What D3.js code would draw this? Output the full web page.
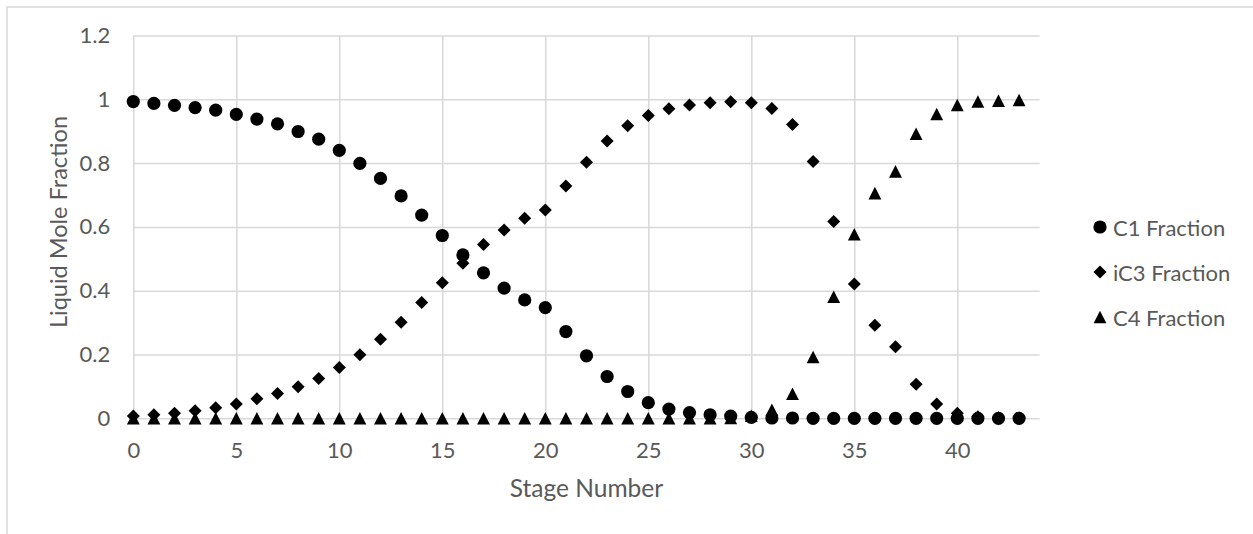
<!DOCTYPE html>
<html>
<head>
<meta charset="utf-8">
<script src="https://cdn.jsdelivr.net/npm/d3@7/dist/d3.min.js"></script>
<style>
  html, body { margin: 0; padding: 0; background: #fff; }
  svg { display: block; }
  text { font-family: Lato, "Open Sans", sans-serif; fill: #595959; }
</style>
</head>
<body>
<svg id="chart" width="1253" height="534"></svg>
<script>
// ---- data ----
const stages = [0,1,2,3,4,5,6,7,8,9,10,11,12,13,14,15,16,17,18,19,20,21,22,23,24,25,26,27,28,29,30,31,32,33,34,35,36,37,38,39,40,41,42,43];
const c1Fraction = [0.993,0.987,0.981,0.974,0.966,0.953,0.938,0.923,0.899,0.875,
                    0.840,0.799,0.752,0.697,0.637,0.573,0.512,0.456,0.408,0.371,
                    0.347,0.272,0.196,0.131,0.084,0.049,0.029,0.018,0.011,0.007,
                    0.003,0.001,0.001,0,0,0,0,0,0,0,
                    0,0,0,0];
const ic3Fraction = [0.007,0.011,0.016,0.024,0.033,0.045,0.061,0.078,0.099,0.125,
                     0.159,0.199,0.248,0.301,0.363,0.425,0.486,0.545,0.590,0.627,
                     0.653,0.728,0.803,0.869,0.917,0.949,0.970,0.982,0.989,0.992,
                     0.989,0.971,0.921,0.805,0.617,0.421,0.292,0.224,0.107,0.045,
                     0.016,0.005,0.002,0.001];
const c4Fraction = [0,0,0,0,0,0,0,0,0,0,
                    0,0,0,0,0,0,0,0,0,0,
                    0,0,0,0,0,0,0,0,0,0.001,
                    0.008,0.027,0.077,0.192,0.381,0.577,0.706,0.774,0.892,0.954,
                    0.982,0.993,0.996,0.998];
const seriesNames = ["C1 Fraction", "iC3 Fraction", "C4 Fraction"];
const xTicks = [0,5,10,15,20,25,30,35,40];
const yTicks = [0,0.2,0.4,0.6,0.8,1,1.2];
const xTitle = "Stage Number";
const yTitle = "Liquid Mole Fraction";

// ---- layout ----
const svg = d3.select("#chart");
const plot = {left: 133.3, right: 1039.7, top: 35.5, bottom: 418.3};
const x = d3.scaleLinear().domain([0, 44]).range([plot.left, plot.right]);
const y = d3.scaleLinear().domain([0, 1.2]).range([plot.bottom, plot.top]);
const gridColor = "#d9d9d9";

// chart border (only top/left visible in the frame)
svg.append("rect")
  .attr("x", 7).attr("y", 7).attr("width", 1300).attr("height", 600)
  .attr("fill", "none").attr("stroke", gridColor).attr("stroke-width", 1.5);

// horizontal gridlines + y labels
const yAxis = d3.axisLeft(y).tickValues(yTicks)
  .tickSize(-(plot.right - plot.left)).tickPadding(23)
  .tickFormat(d => d3.format("~g")(d));
const gy = svg.append("g").attr("transform", `translate(${plot.left},0)`).call(yAxis);
gy.select(".domain").remove();
gy.selectAll("line").attr("stroke", gridColor).attr("stroke-width", 1.5);
gy.selectAll("text").attr("font-size", 22).attr("fill", "#595959")
  .attr("font-family", "Lato, 'Open Sans', sans-serif");

// vertical gridlines + x labels
const xAxis = d3.axisBottom(x).tickValues(xTicks)
  .tickSize(-(plot.bottom - plot.top)).tickPadding(24)
  .tickFormat(d3.format("d"));
const gx = svg.append("g").attr("transform", `translate(0,${plot.bottom})`).call(xAxis);
gx.select(".domain").remove();
gx.selectAll("line").attr("stroke", gridColor).attr("stroke-width", 1.5);
gx.selectAll("text").attr("font-size", 22).attr("fill", "#595959")
  .attr("font-family", "Lato, 'Open Sans', sans-serif");

// axis titles
svg.append("text")
  .attr("x", (plot.left + plot.right) / 2).attr("y", 497)
  .attr("text-anchor", "middle").attr("font-size", 24.5)
  .text(xTitle);
svg.append("text")
  .attr("transform", `translate(67,222) rotate(-90)`)
  .attr("text-anchor", "middle").attr("font-size", 23.5)
  .text(yTitle);

// ---- marker shapes ----
const R = 6.6;   // circle radius
const D = 6.5;   // diamond half-diagonal
const T = 6.3;   // triangle half-size
const shapes = {
  circle: (cx, cy) => `M${cx - R},${cy}a${R},${R} 0 1,0 ${2*R},0a${R},${R} 0 1,0 ${-2*R},0Z`,
  diamond: (cx, cy) => `M${cx},${cy - D}L${cx + D},${cy}L${cx},${cy + D}L${cx - D},${cy}Z`,
  triangle: (cx, cy) => `M${cx},${cy - T}L${cx + T * 1.02},${cy + T}L${cx - T * 1.02},${cy + T}Z`
};
const seriesList = [
  {name: seriesNames[0], values: c1Fraction, shape: "circle"},
  {name: seriesNames[1], values: ic3Fraction, shape: "diamond"},
  {name: seriesNames[2], values: c4Fraction, shape: "triangle"}
];

seriesList.forEach(s => {
  svg.append("g").selectAll("path")
    .data(stages.map((st, i) => ({st, v: s.values[i]})))
    .join("path")
    .attr("d", d => shapes[s.shape](x(d.st), y(d.v)))
    .attr("fill", "#000");
});

// ---- legend ----
const legend = svg.append("g");
seriesList.forEach((s, i) => {
  const ly = 227 + i * 45;
  legend.append("path").attr("d", shapes[s.shape](1100, ly)).attr("fill", "#000");
  legend.append("text").attr("x", 1113).attr("y", ly)
    .attr("dominant-baseline", "central").attr("font-size", 22)
    .text(s.name);
});
</script>
</body>
</html>
